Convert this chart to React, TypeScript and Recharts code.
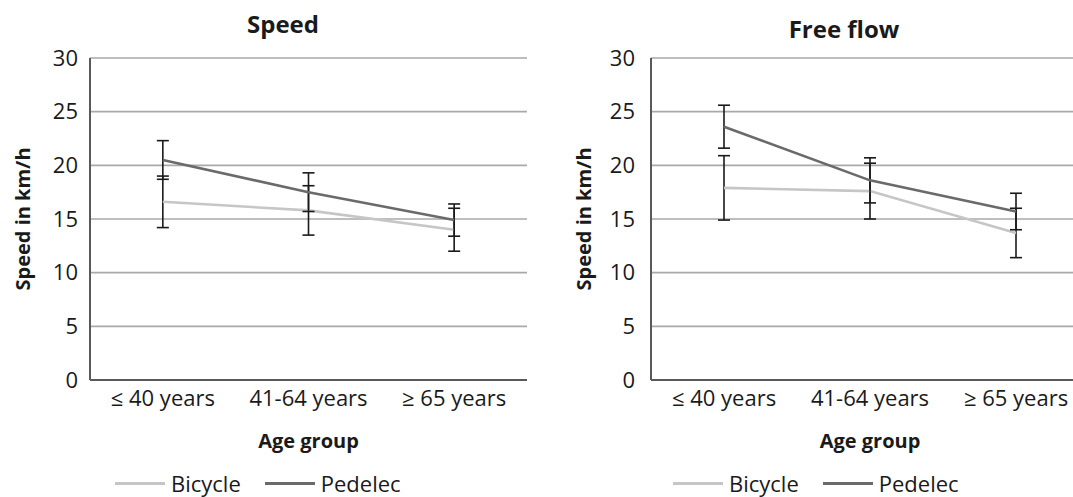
import React from 'react';
import {
  LineChart,
  Line,
  XAxis,
  YAxis,
  CartesianGrid,
  ErrorBar,
  Label,
  Legend,
} from 'recharts';

const ageGroups = ['≤ 40 years', '41-64 years', '≥ 65 years'];
const yTicks = [0, 5, 10, 15, 20, 25, 30];

// Speed panel
const speedBicycle = [16.6, 15.8, 14.0];
const speedBicycleErr = [2.4, 2.3, 2.0];
const speedPedelec = [20.5, 17.5, 14.9];
const speedPedelecErr = [1.8, 1.8, 1.5];

// Free flow panel
const flowBicycle = [17.9, 17.6, 13.7];
const flowBicycleErr = [3.0, 2.6, 2.3];
const flowPedelec = [23.6, 18.6, 15.7];
const flowPedelecErr = [2.0, 2.1, 1.7];

const FONT = '"Open Sans", sans-serif';
const TEXT = '#1a1a1a';
const BICYCLE_COLOR = '#c6c6c6';
const PEDELEC_COLOR = '#6a6a6a';

const buildRows = (bike: number[], bikeErr: number[], ped: number[], pedErr: number[]) =>
  ageGroups.map((age, i) => ({
    age,
    bicycle: bike[i],
    bicycleErr: bikeErr[i],
    pedelec: ped[i],
    pedelecErr: pedErr[i],
  }));

const renderLegend = () => (
  <div
    style={{
      display: 'flex',
      alignItems: 'center',
      fontFamily: FONT,
      fontSize: 22,
      lineHeight: '24px',
      height: 24,
      color: TEXT,
      whiteSpace: 'nowrap',
    }}
  >
    <span style={{ width: 50, height: 3, background: BICYCLE_COLOR, display: 'inline-block' }} />
    <span style={{ marginLeft: 6, marginRight: 24 }}>Bicycle</span>
    <span style={{ width: 50, height: 3, background: PEDELEC_COLOR, display: 'inline-block' }} />
    <span style={{ marginLeft: 6 }}>Pedelec</span>
  </div>
);

interface PanelProps {
  title: string;
  titleX: number;
  titleY: number;
  left: number;
  width: number;
  yAxisWidth: number;
  yLabelX: number;
  tickMargin: number;
  legendLeft: number;
  data: ReturnType<typeof buildRows>;
}

function Panel({
  title,
  titleX,
  titleY,
  left,
  width,
  yAxisWidth,
  yLabelX,
  tickMargin,
  legendLeft,
  data,
}: PanelProps) {
  return (
    <div style={{ position: 'absolute', left, top: 0, width, height: 497 }}>
      <div
        style={{
          position: 'absolute',
          left: titleX,
          top: titleY,
          transform: 'translate(-50%, -50%)',
          fontFamily: FONT,
          fontWeight: 700,
          fontSize: 24,
          color: TEXT,
          whiteSpace: 'nowrap',
        }}
      >
        {title}
      </div>
      <LineChart
        width={width}
        height={497}
        data={data}
        margin={{ top: 58, right: 11, bottom: 42, left: 0 }}
      >
        <CartesianGrid vertical={false} stroke="#a9a9a9" strokeWidth={1.6} />
        <XAxis
          dataKey="age"
          scale="band"
          height={75}
          tickLine={false}
          tickMargin={4}
          axisLine={{ stroke: '#595959', strokeWidth: 2 }}
          tick={{ fill: TEXT, fontSize: 22, fontFamily: FONT }}
        >
          <Label
            content={({ viewBox }: any) => (
              <text
                x={viewBox.x + viewBox.width / 2}
                y={viewBox.y + 60}
                textAnchor="middle"
                dominantBaseline="central"
                fontFamily={FONT}
                fontWeight={700}
                fontSize={20}
                fill={TEXT}
              >
                Age group
              </text>
            )}
          />
        </XAxis>
        <YAxis
          width={yAxisWidth}
          domain={[0, 30]}
          ticks={yTicks}
          tickLine={false}
          tickMargin={tickMargin}
          axisLine={{ stroke: '#595959', strokeWidth: 2 }}
          tick={{ fill: TEXT, fontSize: 22, fontFamily: FONT }}
        >
          <Label
            content={({ viewBox }: any) => {
              const cx = viewBox.x + yLabelX;
              const cy = viewBox.y + viewBox.height / 2;
              return (
                <text
                  x={cx}
                  y={cy}
                  transform={`rotate(-90, ${cx}, ${cy})`}
                  textAnchor="middle"
                  dominantBaseline="central"
                  fontFamily={FONT}
                  fontWeight={700}
                  fontSize={20}
                  fill={TEXT}
                >
                  Speed in km/h
                </text>
              );
            }}
          />
        </YAxis>
        <Legend
          verticalAlign="middle"
          layout="horizontal"
          wrapperStyle={{ top: 471, left: legendLeft, width: 'auto', height: 24 }}
          content={renderLegend}
        />
        <Line
          type="linear"
          dataKey="bicycle"
          name="Bicycle"
          stroke={BICYCLE_COLOR}
          strokeWidth={2.6}
          dot={false}
          isAnimationActive={false}
        >
          <ErrorBar dataKey="bicycleErr" direction="y" width={6} stroke="#1a1a1a" strokeWidth={1.6} />
        </Line>
        <Line
          type="linear"
          dataKey="pedelec"
          name="Pedelec"
          stroke={PEDELEC_COLOR}
          strokeWidth={2.6}
          dot={false}
          isAnimationActive={false}
        >
          <ErrorBar dataKey="pedelecErr" direction="y" width={6} stroke="#1a1a1a" strokeWidth={1.6} />
        </Line>
      </LineChart>
    </div>
  );
}

export default function App() {
  const speedData = buildRows(speedBicycle, speedBicycleErr, speedPedelec, speedPedelecErr);
  const flowData = buildRows(flowBicycle, flowBicycleErr, flowPedelec, flowPedelecErr);

  return (
    <div
      style={{
        position: 'absolute',
        left: 0,
        top: 0,
        width: 1073,
        height: 497,
        overflow: 'hidden',
        background: '#fff',
      }}
    >
      <Panel
        title="Speed"
        titleX={283}
        titleY={23}
        left={0}
        width={538}
        yAxisWidth={90}
        yLabelX={22}
        tickMargin={6}
        legendLeft={115}
        data={speedData}
      />
      <Panel
        title="Free flow"
        titleX={304}
        titleY={28}
        left={540}
        width={560}
        yAxisWidth={111}
        yLabelX={43}
        tickMargin={10}
        legendLeft={133}
        data={flowData}
      />
    </div>
  );
}
